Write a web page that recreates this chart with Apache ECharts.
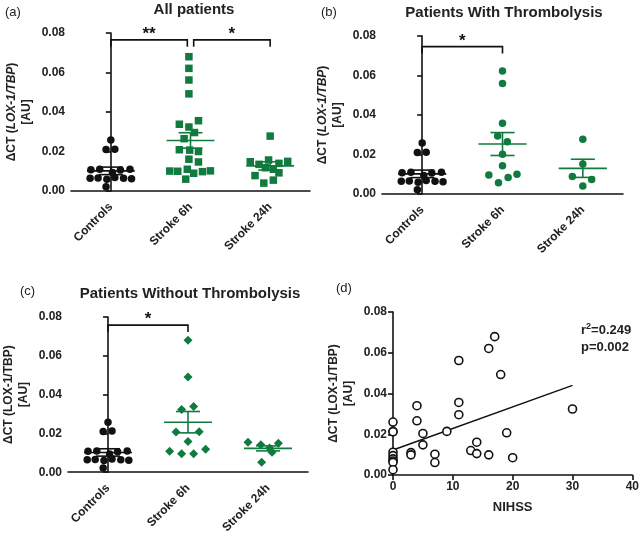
<!DOCTYPE html>
<html>
<head>
<meta charset="utf-8">
<script src="https://cdn.jsdelivr.net/npm/echarts@6/dist/echarts.min.js"></script>
<style>
  html, body { margin: 0; padding: 0; background: #fff; }
  #chart { width: 642px; height: 536px; }
</style>
</head>
<body>
<div id="chart"></div>
<script>
// groups on the x axis
const groups = ['Controls', 'Stroke 6h', 'Stroke 24h']

// controls (same in a, b, c) - value and horizontal jitter
const ctrlY = [0.0258, 0.0210, 0.0212, 0.0108, 0.0110, 0.0106, 0.0110, 0.0064, 0.0066, 0.0060, 0.0068, 0.0064, 0.0062, 0.0022, 0.0094]
const ctrlJ = [0, -0.06, 0.05, -0.25, -0.14, 0.12, 0.24, -0.26, -0.16, -0.05, 0.05, 0.16, 0.26, -0.06, 0.02]

// (a) all patients
const a6Y = [0.0680, 0.0621, 0.0562, 0.0492, 0.0356, 0.0338, 0.0324, 0.0296, 0.0265, 0.0209, 0.0207, 0.0200, 0.0161, 0.0147, 0.0101, 0.0100, 0.0110, 0.0090, 0.0098, 0.0102, 0.0060]
const a6J = [-0.02, -0.02, -0.02, -0.02, 0.1, -0.14, -0.02, 0.05, -0.08, -0.14, -0.01, 0.1, -0.02, 0.1, -0.26, -0.16, -0.04, 0.04, 0.15, 0.25, -0.06]
const a24Y = [0.0278, 0.0148, 0.0135, 0.0157, 0.0140, 0.0150, 0.0118, 0.0110, 0.0078, 0.0092, 0.0040, 0.0055]
const a24J = [0, -0.25, -0.14, -0.02, 0.11, 0.22, -0.06, 0.04, -0.19, 0.11, -0.08, 0.04]

// (b) with thrombolysis
const b6Y = [0.0623, 0.0560, 0.0358, 0.0294, 0.0265, 0.0201, 0.0143, 0.0096, 0.0057, 0.0083, 0.0100]
const b6J = [0, 0, 0, -0.06, 0.06, 0, 0, -0.17, -0.05, 0.07, 0.18]
const b24Y = [0.0277, 0.0152, 0.0088, 0.0074, 0.0041]
const b24J = [0, 0, -0.13, 0.11, 0]

// (c) without thrombolysis
const c6Y = [0.0680, 0.0491, 0.0323, 0.0339, 0.0208, 0.0209, 0.0159, 0.0108, 0.0095, 0.0095, 0.0118]
const c6J = [0, 0, -0.08, 0.07, -0.15, 0.14, 0, -0.23, -0.08, 0.07, 0.22]
const c24Y = [0.0154, 0.0142, 0.0150, 0.0103, 0.0052, 0.0125]
const c24J = [-0.25, -0.09, 0.13, 0.05, -0.08, 0.02]

// mean and SEM per group [controls, 6h, 24h]
const meanA = [0.0102, 0.0256, 0.0127]
const semA = [0.0019, 0.0039, 0.0021]
const meanB = [0.0102, 0.0253, 0.0130]
const semB = [0.0019, 0.0058, 0.0046]
const meanC = [0.0102, 0.0258, 0.0123]
const semC = [0.0019, 0.0055, 0.0013]

// significance brackets [from, to, height, stars]
const brA = [[0, 0.96, 0.0765, '**'], [1.04, 2, 0.0765, '*']]
const brB = [[0, 1, 0.0746, '*']]
const brC = [[0, 1, 0.0758, '*']]

// (d) NIHSS vs LOX-1
const nihss = [0, 0, 0, 0, 0, 0, 0, 0, 0, 3, 3, 4, 4, 5, 5, 7, 7, 9, 11, 11, 11, 13, 14, 14, 16, 16, 17, 18, 19, 20, 30]
const loxD = [0.0260, 0.0214, 0.0212, 0.0112, 0.0095, 0.0079, 0.0069, 0.0062, 0.0026, 0.0110, 0.0099, 0.0340, 0.0266, 0.0204, 0.0148, 0.0102, 0.0061, 0.0214, 0.0562, 0.0356, 0.0296, 0.0120, 0.0161, 0.0105, 0.0621, 0.0099, 0.0679, 0.0493, 0.0207, 0.0085, 0.0324]
const fitX = [0, 30]
const fitY = [0.0123, 0.0440]

const yTicks = [0, 0.02, 0.04, 0.06, 0.08]
const dTicks = [0, 10, 20, 30, 40]

const GREEN = '#117a3f'
const BLACK = '#111'
const FONT = 'Liberation Sans, Arial, sans-serif'

const chart = echarts.init(document.getElementById('chart'))

const pts = (ys, js, g) => ys.map((v, i) => [g + js[i], v])

const axisLine = { show: true, lineStyle: { color: BLACK, width: 1.6 } }
const tickLabel = { color: '#222', fontWeight: 'bold', fontSize: 12, fontFamily: FONT }

function yAxis(grid, italic) {
  const name = italic
    ? '{n|ΔCT (}{i|LOX-1/TBP}{n|)}\n{n|[AU]}'
    : '{n|ΔCT (LOX-1/TBP)}\n{n|[AU]}'
  return {
    type: 'value', gridIndex: grid, min: yTicks[0], max: yTicks[yTicks.length - 1], interval: 0.02,
    axisLine, axisTick: { show: true, length: 5, lineStyle: { color: BLACK, width: 1.6 } },
    splitLine: { show: false },
    axisLabel: Object.assign({ formatter: v => v.toFixed(2), margin: 6 }, tickLabel),
    name, nameLocation: 'middle', nameRotate: 90, nameGap: 37,
    nameTextStyle: {
      align: 'center', lineHeight: 15,
      rich: {
        n: { fontWeight: 'bold', fontSize: 12, color: '#222', fontFamily: FONT, lineHeight: 15 },
        i: { fontWeight: 'bold', fontStyle: 'italic', fontSize: 12, color: '#222', fontFamily: FONT, lineHeight: 15 }
      }
    }
  }
}

function catAxis(grid) {
  return {
    type: 'category', gridIndex: grid, data: groups, boundaryGap: true,
    axisLine, axisTick: { show: false },
    axisLabel: Object.assign({ rotate: 45, margin: 14, interval: 0 }, tickLabel)
  }
}

function valAxis(grid) {
  return { type: 'value', gridIndex: grid, min: -0.5, max: 2.5, show: false }
}

function errBars(params, api) {
  const x = api.value(0), m = api.value(1), s = api.value(2)
  const c = api.coord([x, m]), t = api.coord([x, m + s]), b = api.coord([x, m - s])
  const half = api.size([0.3, 0])[0], cap = api.size([0.15, 0])[0]
  const style = { stroke: api.visual('color'), lineWidth: 1.6 }
  const ln = (x1, y1, x2, y2) => ({ type: 'line', shape: { x1, y1, x2, y2 }, style })
  return {
    type: 'group', children: [
      ln(c[0] - half, c[1], c[0] + half, c[1]),
      ln(t[0], t[1], b[0], b[1]),
      ln(t[0] - cap, t[1], t[0] + cap, t[1]),
      ln(b[0] - cap, b[1], b[0] + cap, b[1])
    ]
  }
}

function brackets(params, api) {
  const x1 = api.value(0), x2 = api.value(1), h = api.value(2)
  const p1 = api.coord([x1, h - 0.0035]), p2 = api.coord([x1, h]), p3 = api.coord([x2, h]), p4 = api.coord([x2, h - 0.0035])
  return {
    type: 'group', children: [
      { type: 'polyline', shape: { points: [p1, p2, p3, p4] }, style: { stroke: BLACK, lineWidth: 1.6, fill: null } },
      {
        type: 'text', x: (p2[0] + p3[0]) / 2, y: p2[1] - 14,
        style: { text: api.value(3), fill: BLACK, font: 'bold 17px ' + FONT, align: 'center', verticalAlign: 'top' }
      }
    ]
  }
}

function panelSeries(xi, yi, sixY, sixJ, sixSym, sixSize, tfY, tfJ, tfSym, tfSize, mean, sem, br) {
  const dot = (data, sym, size, color) => ({
    type: 'scatter', xAxisIndex: xi, yAxisIndex: yi, data, symbol: sym, symbolSize: size,
    itemStyle: { color, opacity: 1 }, silent: true, z: 2
  })
  return [
    dot(pts(ctrlY, ctrlJ, 0), 'circle', 7.5, BLACK),
    dot(pts(sixY, sixJ, 1), sixSym, sixSize, GREEN),
    dot(pts(tfY, tfJ, 2), tfSym, tfSize, GREEN),
    {
      type: 'custom', xAxisIndex: xi, yAxisIndex: yi, renderItem: errBars, silent: true, z: 3,
      data: mean.map((m, i) => ({ value: [i, m, sem[i]], itemStyle: { color: i === 0 ? BLACK : GREEN } }))
    },
    { type: 'custom', xAxisIndex: xi, yAxisIndex: yi, renderItem: brackets, silent: true, z: 3, clip: false, data: br }
  ]
}

const titleStyle = { fontSize: 15, fontWeight: 'bold', color: '#222', fontFamily: FONT }
const tagStyle = { fontSize: 13, fontWeight: 'normal', color: '#222', fontFamily: FONT }

const option = {
  animation: false,
  title: [
    { text: 'All patients', left: 189, top: -3, textAlign: 'center', textStyle: titleStyle },
    { text: 'Patients With Thrombolysis', left: 499, top: 0, textAlign: 'center', textStyle: titleStyle },
    { text: 'Patients Without Thrombolysis', left: 185, top: 281, textAlign: 'center', textStyle: titleStyle },
    { text: '(a)', left: 0, top: 1, textStyle: tagStyle },
    { text: '(b)', left: 316, top: 1, textStyle: tagStyle },
    { text: '(c)', left: 15, top: 280, textStyle: tagStyle },
    { text: '(d)', left: 331, top: 277, textStyle: tagStyle }
  ],
  graphic: [{
    type: 'text', left: 581, top: 322,
    style: {
      text: '{t|r}{s|2}{t|=0.249}\n{t|p=0.002}',
      rich: {
        t: { font: 'bold 13px ' + FONT, fill: '#222', lineHeight: 17 },
        s: { font: 'bold 9px ' + FONT, fill: '#222', verticalAlign: 'top', lineHeight: 17, padding: [0, 0, 6, 0] }
      }
    }
  }],
  grid: [
    { left: 71, right: 332, top: 33, bottom: 345 },
    { left: 382, right: 19, top: 36, bottom: 342 },
    { left: 68, right: 334, top: 317, bottom: 61 },
    { left: 393, right: 7, top: 312, bottom: 61 }
  ],
  xAxis: [
    catAxis(0), valAxis(0),
    catAxis(1), valAxis(1),
    catAxis(2), valAxis(2),
    {
      type: 'value', gridIndex: 3, min: dTicks[0], max: dTicks[dTicks.length - 1], interval: 10,
      axisLine, axisTick: { show: true, length: 5, lineStyle: { color: BLACK, width: 1.6 } },
      splitLine: { show: false }, axisLabel: Object.assign({ margin: 6 }, tickLabel),
      name: 'NIHSS', nameLocation: 'middle', nameGap: 26,
      nameTextStyle: { fontWeight: 'bold', fontSize: 13, color: '#222', fontFamily: FONT }
    }
  ],
  yAxis: [yAxis(0, true), yAxis(1, true), yAxis(2, false), yAxis(3, false)],
  series: [
    ...panelSeries(1, 0, a6Y, a6J, 'rect', 7.5, a24Y, a24J, 'rect', 7.5, meanA, semA, brA),
    ...panelSeries(3, 1, b6Y, b6J, 'circle', 7.5, b24Y, b24J, 'circle', 7.5, meanB, semB, brB),
    ...panelSeries(5, 2, c6Y, c6J, 'diamond', 9, c24Y, c24J, 'diamond', 9, meanC, semC, brC),
    {
      type: 'scatter', xAxisIndex: 6, yAxisIndex: 3, clip: false, silent: true,
      data: nihss.map((n, i) => [n, loxD[i]]), symbol: 'circle', symbolSize: 8,
      itemStyle: { color: '#fff', borderColor: BLACK, borderWidth: 1.6, opacity: 1 }, z: 3
    },
    {
      type: 'line', xAxisIndex: 6, yAxisIndex: 3, silent: true, symbol: 'none',
      data: fitX.map((x, i) => [x, fitY[i]]), lineStyle: { color: BLACK, width: 1.5 }, z: 2
    }
  ]
}

chart.setOption(option)
window.addEventListener('resize', () => chart.resize())
</script>
</body>
</html>
